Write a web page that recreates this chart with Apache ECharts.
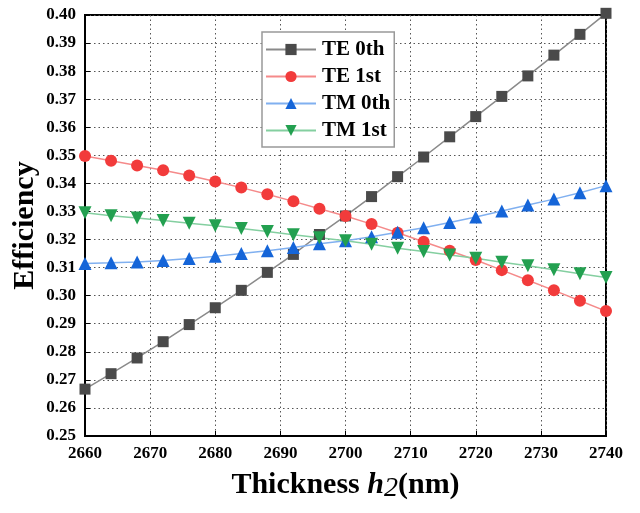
<!DOCTYPE html>
<html>
<head>
<meta charset="UTF-8">
<title>efficiency vs thickness</title>
<script src="https://cdn.jsdelivr.net/npm/echarts@6/dist/echarts.min.js"></script>
</head>
<body style="margin:0">
<div id="main" style="width:640px;height:513px;"></div>
<script type="text/javascript">
// thickness h2 (nm)
var thickness = [2660, 2664, 2668, 2672, 2676, 2680, 2684, 2688, 2692, 2696, 2700,
                 2704, 2708, 2712, 2716, 2720, 2724, 2728, 2732, 2736, 2740];
var te0 = [0.2667, 0.2722, 0.2778, 0.2836, 0.2897, 0.2957, 0.3019, 0.3083, 0.3147, 0.3218, 0.3284,
           0.3353, 0.3424, 0.3494, 0.3566, 0.3638, 0.3710, 0.3783, 0.3857, 0.3931, 0.4006];
var te1 = [0.3498, 0.3481, 0.3464, 0.3447, 0.3428, 0.3407, 0.3385, 0.3361, 0.3336, 0.3310, 0.3284,
           0.3255, 0.3224, 0.3192, 0.3160, 0.3127, 0.3091, 0.3055, 0.3019, 0.2982, 0.2945];
var tm0 = [0.3115, 0.3117, 0.3120, 0.3125, 0.3132, 0.3140, 0.3150, 0.3160, 0.3172, 0.3185, 0.3196,
           0.3210, 0.3226, 0.3242, 0.3261, 0.3280, 0.3302, 0.3323, 0.3344, 0.3367, 0.3392];
var tm1 = [0.3295, 0.3285, 0.3277, 0.3268, 0.3258, 0.3249, 0.3239, 0.3229, 0.3217, 0.3206, 0.3196,
           0.3183, 0.3169, 0.3157, 0.3145, 0.3133, 0.3119, 0.3107, 0.3092, 0.3078, 0.3065];
var names = ['TE 0th', 'TE 1st', 'TM 0th', 'TM 1st'];

function pairs(ys) {
	var out = [];
	for (var i = 0; i < thickness.length; i++) {
		out.push([thickness[i], ys[i]]);
	}
	return out;
}

var FONT = 'Liberation Serif';
var chart = echarts.init(document.getElementById('main'));

function makeSeries(name, ys, symbol, size, lineColor, markColor, rotate) {
	return {
		name: name,
		type: 'line',
		data: pairs(ys),
		clip: false,
		symbol: symbol,
		symbolSize: size,
		symbolRotate: rotate || 0,
		lineStyle: { color: lineColor, width: 1.5 },
		itemStyle: { color: markColor },
		emphasis: { disabled: true }
	};
}

var option = {
	animation: false,
	grid: {
		left: 85, right: 34, top: 15, bottom: 77,
		containLabel: false, outerBoundsMode: 'none',
		show: true, borderColor: '#000', borderWidth: 2
	},
	legend: {
		orient: 'vertical',
		left: 262, top: 32,
		padding: [7, 4, 6, 3],
		itemWidth: 50, itemHeight: 14, itemGap: 6,
		borderColor: '#999', borderWidth: 1.5,
		backgroundColor: '#fff',
		textStyle: { fontFamily: FONT, fontWeight: 'bold', fontSize: 21, color: '#000', padding: [0, 0, 0, 1] },
		data: names
	},
	xAxis: {
		type: 'value', min: 2660, max: 2740, interval: 10,
		name: '{b|Thickness }{i|h}{s|2}{b|(nm)}',
		nameLocation: 'middle', nameGap: 31,
		nameTextStyle: {
			rich: {
				b: { fontFamily: FONT, fontWeight: 'bold', fontSize: 30, color: '#000' },
				i: { fontFamily: FONT, fontWeight: 'bold', fontStyle: 'italic', fontSize: 30, color: '#000' },
				s: { fontFamily: FONT, fontStyle: 'italic', fontSize: 28, color: '#000', padding: [8, 0, 0, 0] }
			}
		},
		axisLine: { onZero: false, lineStyle: { color: '#000', width: 2 } },
		axisTick: { inside: true, length: 5, lineStyle: { color: '#000' } },
		axisLabel: {
			fontFamily: FONT, fontWeight: 'bold', fontSize: 17, color: '#000', margin: 9,
			formatter: function (v) { return String(v); }
		},
		splitLine: { lineStyle: { color: '#555', type: [1.5, 3] } }
	},
	yAxis: {
		type: 'value', min: 0.25, max: 0.40, interval: 0.01,
		name: 'Efficiency',
		nameLocation: 'middle', nameGap: 45, nameMoveOverlap: false,
		nameTextStyle: { fontFamily: FONT, fontWeight: 'bold', fontSize: 30, color: '#000' },
		axisLine: { onZero: false, lineStyle: { color: '#000', width: 2 } },
		axisTick: { inside: true, length: 5, lineStyle: { color: '#000' } },
		axisLabel: {
			fontFamily: FONT, fontWeight: 'bold', fontSize: 17, color: '#000', margin: 9,
			formatter: function (v) { return v.toFixed(2); }
		},
		splitLine: { lineStyle: { color: '#555', type: [1.5, 3] } }
	},
	series: [
		makeSeries(names[0], te0, 'rect', 11, '#8a8a8a', '#4a4a4a'),
		makeSeries(names[1], te1, 'circle', 12, '#f58a8a', '#f23b3b'),
		makeSeries(names[2], tm0, 'triangle', 13, '#80b0f0', '#1565d8'),
		makeSeries(names[3], tm1, 'triangle', 13, '#84cfa0', '#23a050', 180)
	]
};

chart.setOption(option);
</script>
</body>
</html>
